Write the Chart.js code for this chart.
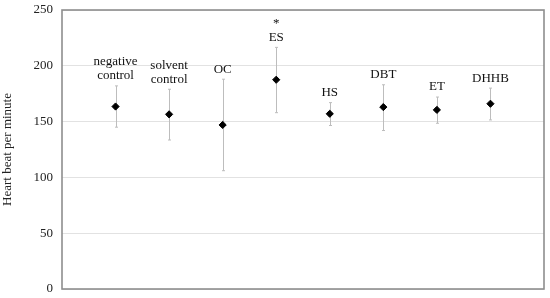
<!DOCTYPE html>
<html>
<head>
<meta charset="utf-8">
<script src="https://cdn.jsdelivr.net/npm/chart.js@4"></script>
<style>
html,body{margin:0;padding:0;background:#fff;}
#wrap{width:550px;height:298px;position:relative;}
</style>
</head>
<body>
<div id="wrap"><canvas id="c" width="550" height="298"></canvas></div>
<script>
const categories = ["negative control", "solvent control", "OC", "ES", "HS", "DBT", "ET", "DHHB"];
const labelLines = [["negative", "control"], ["solvent", "control"], ["OC"], ["*", "ES"], ["HS"], ["DBT"], ["ET"], ["DHHB"]];
const meanBpm = [163.5, 156.5, 147, 187.5, 157, 163, 160.5, 166];
const upperBpm = [182, 179, 188, 216.5, 167, 183, 172, 180];
const lowerBpm = [145, 133.5, 106, 158, 146.5, 142, 148.5, 151.5];
const yTicks = [0, 50, 100, 150, 200, 250];

const SERIF = '"Liberation Serif", "Times New Roman", serif';

const errorBars = {
  id: 'errorBars',
  beforeDatasetsDraw(chart) {
    const ctx = chart.ctx, xs = chart.scales.x, ys = chart.scales.y;
    ctx.save();
    ctx.strokeStyle = '#bdbdbd';
    ctx.lineWidth = 1;
    categories.forEach((c, i) => {
      const x = Math.round(xs.getPixelForValue(i + 1)) + 0.5;
      const yt = ys.getPixelForValue(upperBpm[i]);
      const yb = ys.getPixelForValue(lowerBpm[i]);
      ctx.beginPath();
      ctx.moveTo(x, yt); ctx.lineTo(x, yb);
      ctx.moveTo(x - 1.5, yt); ctx.lineTo(x + 1.5, yt);
      ctx.moveTo(x - 1.5, yb); ctx.lineTo(x + 1.5, yb);
      ctx.stroke();
    });
    ctx.restore();
  },
  afterDraw(chart) {
    const ctx = chart.ctx, xs = chart.scales.x, ys = chart.scales.y, a = chart.chartArea;
    ctx.save();
    ctx.strokeStyle = '#8e8e8e';
    ctx.lineWidth = 1.6;
    ctx.strokeRect(a.left, a.top, a.right - a.left, a.bottom - a.top);
    ctx.fillStyle = '#111';
    ctx.font = '13px ' + SERIF;
    ctx.textAlign = 'center';
    ctx.textBaseline = 'middle';
    labelLines.forEach((lines, i) => {
      const x = xs.getPixelForValue(i + 1);
      const yt = ys.getPixelForValue(upperBpm[i]);
      const n = lines.length;
      lines.forEach((t, j) => {
        const y = yt - 10 - (n - 1 - j) * 14;
        ctx.fillText(t, x, y);
      });
    });
    ctx.restore();
  }
};

new Chart(document.getElementById('c'), {
  type: 'scatter',
  data: {
    datasets: [{
      data: meanBpm.map((v, i) => ({x: i + 1, y: v})),
      pointStyle: 'rectRot',
      pointRadius: 3.6,
      backgroundColor: '#000',
      borderColor: '#000',
      borderWidth: 1
    }]
  },
  options: {
    responsive: false,
    animation: false,
    events: [],
    layout: {padding: {left: 0, right: 6, top: 10, bottom: 9}},
    plugins: {legend: {display: false}, tooltip: {enabled: false}},
    scales: {
      x: {
        type: 'linear', min: 0, max: 9, display: false
      },
      y: {
        min: 0, max: 250,
        afterBuildTicks(s) { s.ticks = yTicks.map(v => ({value: v})); },
        afterFit(s) { s.width = 62; s.paddingTop = 0; s.paddingBottom = 0; },
        border: {display: false},
        grid: {color: '#e2e2e2', lineWidth: 1, drawTicks: false},
        ticks: {
          color: '#222', padding: 9,
          font: {family: SERIF, size: 13}
        },
        title: {
          display: true, text: 'Heart beat per minute', color: '#222',
          font: {family: SERIF, size: 13}, padding: {top: 0, bottom: 0}
        }
      }
    }
  },
  plugins: [errorBars]
});
</script>
</body>
</html>
